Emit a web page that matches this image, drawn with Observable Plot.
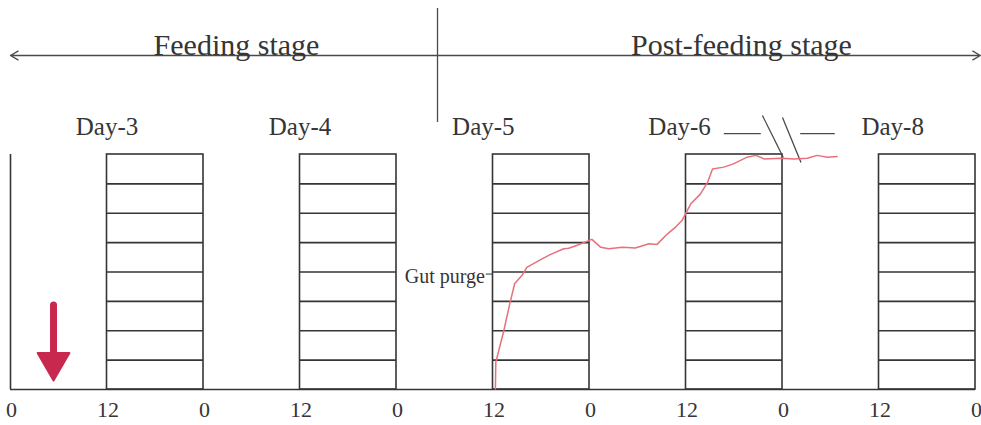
<!DOCTYPE html>
<html>
<head>
<meta charset="utf-8">
<script src="https://cdn.jsdelivr.net/npm/d3@7"></script>
<script src="https://cdn.jsdelivr.net/npm/@observablehq/plot@0.6"></script>
<style>
  html, body { margin: 0; padding: 0; background: #ffffff; }
  #chart svg { display: block; }
</style>
</head>
<body>
<div id="chart"></div>
<script>
// ---- data (x in hours from start of Day-3, y in grid units 0..8) ----
const xTicks = [0, 12, 24, 36, 48, 60, 72, 84, 96, 108, 120];
const xTickLabels = ["0", "12", "0", "12", "0", "12", "0", "12", "0", "12", "0"];
const boxStarts = [12, 36, 60, 84, 108];
const boxWidth = 12;
const gridLevels = [1, 2, 3, 4, 5, 6, 7];
const gridTop = 8;

const dayLabels = ["Day-3", "Day-4", "Day-5", "Day-6", "Day-8"];
const dayLabelHours = [12, 36, 58.8, 83.2, 109.7];
const dayLabelLevel = 8.92;

const stageLabels = ["Feeding stage", "Post-feeding stage"];
const stageLabelHours = [28.1, 90.9];
const stageLabelLevel = 11.73;
const stageLineLevel = 11.37;
const stageDividerHour = 53.1;
const stageDividerLevels = [9.09, 12.97];
const stageArrowEnds = [0, 120.6];

// mass / activity trace (red)
const traceHours = [60.3, 60.35, 61.3, 62.1, 62.7, 63.6, 64.2, 65.7, 67.1, 68.8, 69.4, 70.4, 71.9, 72.3,
  73.4, 74.4, 76.1, 77.7, 79.4, 80.4, 81.7, 82.7, 83.5, 84.6, 85.8, 86.7, 87.3, 88.7, 89.9, 91.6, 92.7,
  93.7, 95.8, 97.4, 99.1, 100.3, 101.6, 102.8];
const traceValues = [0.02, 0.93, 1.95, 2.93, 3.61, 3.88, 4.16, 4.39, 4.59, 4.79, 4.81, 4.90, 5.07, 5.11,
  4.84, 4.79, 4.84, 4.82, 4.96, 4.94, 5.30, 5.53, 5.75, 6.32, 6.66, 7.06, 7.51, 7.57, 7.68, 7.91, 7.97,
  7.85, 7.87, 7.85, 7.87, 7.97, 7.91, 7.93];

// axis break marks between Day-6 and Day-8
const breakX1 = [88.7, 98.2, 93.5, 96.0];
const breakX2 = [93.3, 102.5, 96.1, 98.3];
const breakY1 = [8.71, 8.71, 9.33, 9.26];
const breakY2 = [8.71, 8.71, 7.90, 7.73];

const gutPurgeLabel = "Gut purge";
const gutPurgeHour = 59.0;
const gutPurgeLevel = 3.85;

const feedArrowHour = 5.35;
const feedArrowLevels = [2.86, 1.25];
const feedArrowTipLevel = 0.93;

// ---- derived tables ----
const trace = traceHours.map((h, i) => ({h, v: traceValues[i]}));
const boxes = boxStarts.map(s => ({x1: s, x2: s + boxWidth}));
const gridRules = boxStarts.flatMap(s => gridLevels.map(g => ({x1: s, x2: s + boxWidth, y: g})));
const days = dayLabels.map((t, i) => ({t, h: dayLabelHours[i]}));
const stages = stageLabels.map((t, i) => ({t, h: stageLabelHours[i]}));
const breaks = breakX1.map((x, i) => ({x1: x, x2: breakX2[i], y1: breakY1[i], y2: breakY2[i]}));

const ink = "#353535";
const font = "'Liberation Serif', 'Times New Roman', serif";

const chart = Plot.plot({
  width: 981,
  height: 425,
  marginTop: 154,
  marginBottom: 36,
  marginLeft: 10,
  marginRight: 6,
  style: {fontFamily: font, background: "#ffffff", color: ink, overflow: "visible"},
  x: {domain: [0, 120]},
  y: {domain: [0, gridTop], axis: null},
  marks: [
    // baseline and left axis
    Plot.ruleY([0], {x1: 0, x2: 120, stroke: ink, strokeWidth: 1.6}),
    Plot.ruleX([0], {y1: 0, y2: gridTop, stroke: ink, strokeWidth: 1.6}),
    // day boxes with grid lines
    Plot.rect(boxes, {x1: "x1", x2: "x2", y1: 0, y2: gridTop, fill: "none", stroke: ink, strokeWidth: 1.6}),
    Plot.ruleY(gridRules, {x1: "x1", x2: "x2", y: "y", stroke: ink, strokeWidth: 1.6}),
    // x axis labels
    Plot.axisX({ticks: xTicks, tickFormat: (d) => xTickLabels[xTicks.indexOf(d)], tickSize: 0, tickPadding: 12,
      fontSize: 22, fill: ink, fontFamily: font, dx: 1}),
    // day labels
    Plot.text(days, {x: "h", y: dayLabelLevel, text: "t", fontSize: 25, fill: ink, fontFamily: font}),
    // stage header
    Plot.arrow(stageArrowEnds, {x1: stageDividerHour, x2: d => d, y1: stageLineLevel, y2: stageLineLevel,
      stroke: "#4a4a4a", strokeWidth: 1.3, headLength: 10, bend: 0}),
    Plot.ruleX([stageDividerHour], {y1: stageDividerLevels[0], y2: stageDividerLevels[1], stroke: "#4a4a4a", strokeWidth: 1.3}),
    Plot.text(stages, {x: "h", y: stageLabelLevel, text: "t", fontSize: 30, fill: ink, fontFamily: font}),
    // break marks
    Plot.link(breaks, {x1: "x1", x2: "x2", y1: "y1", y2: "y2", stroke: "#4a4a4a", strokeWidth: 1.3}),
    // gut purge label
    Plot.text([gutPurgeLabel], {x: gutPurgeHour, y: gutPurgeLevel, text: d => d, textAnchor: "end",
      fontSize: 20, fill: ink, fontFamily: font}),
    Plot.link([gutPurgeLabel], {x1: gutPurgeHour + 0.1, x2: 60, y1: 3.93, y2: 3.93, stroke: ink, strokeWidth: 1}),
    // red trace
    Plot.line(trace, {x: "h", y: "v", stroke: "#e8707c", strokeWidth: 1.5, curve: "linear"}),
    // red feeding arrow
    Plot.ruleX([feedArrowHour], {y1: feedArrowLevels[0], y2: feedArrowLevels[1], stroke: "#c8284e", strokeWidth: 7, strokeLinecap: "round"}),
    Plot.dot([feedArrowHour], {x: d => d, y: feedArrowTipLevel, symbol: "triangle", rotate: 180, r: 11.8,
      fill: "#c8284e", stroke: "#c8284e", strokeWidth: 2, strokeLinejoin: "round"})
  ]
});

document.getElementById("chart").appendChild(chart);
</script>
</body>
</html>
